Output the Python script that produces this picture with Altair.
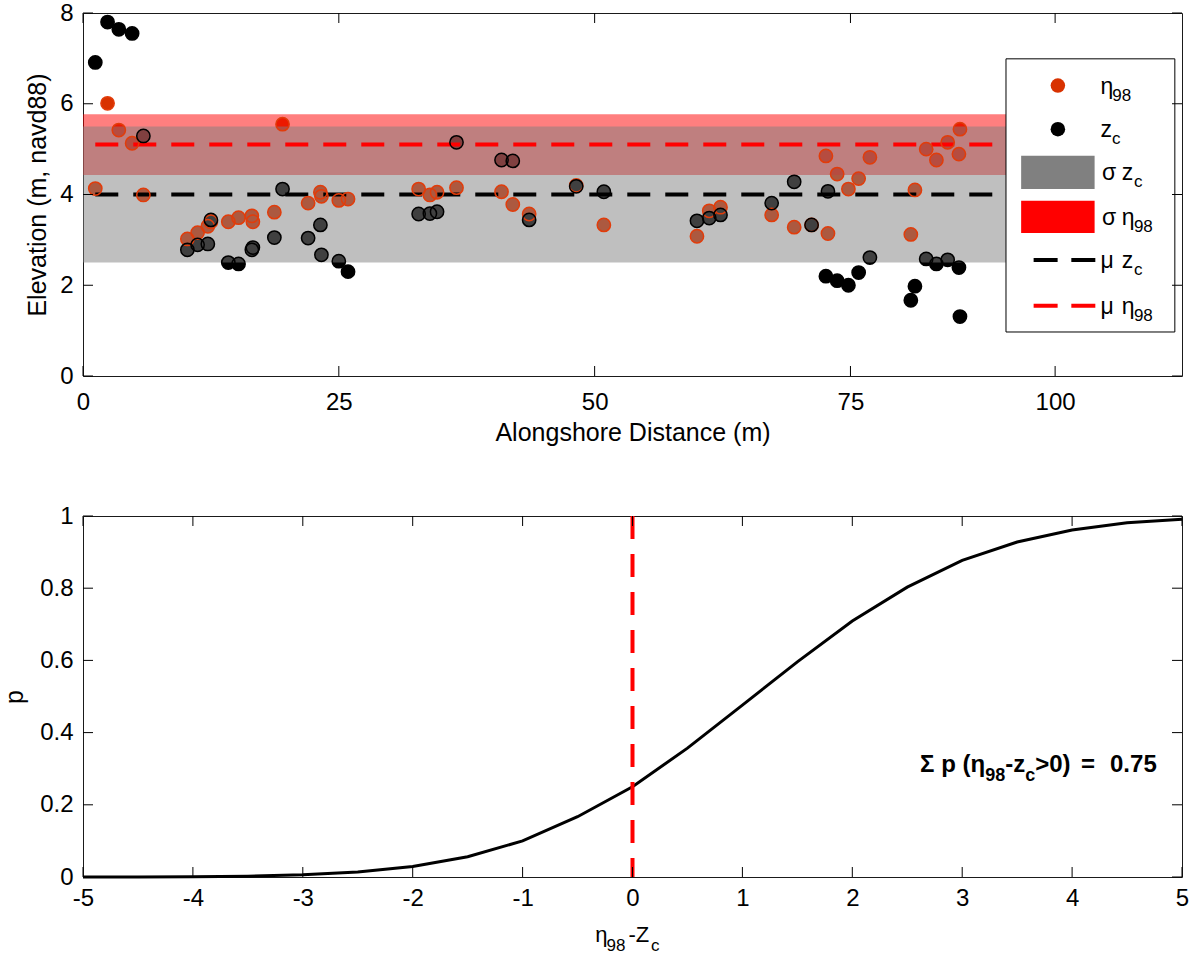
import altair as alt
import pandas as pd

FONT = "Liberation Sans"

# ---------------- top panel data ----------------
dist = [1.2, 2.4, 3.5, 4.8, 5.9, 10.2, 11.2, 12.2, 12.5, 14.2, 15.2, 16.5, 16.6, 18.7, 19.5,
        22.0, 23.2, 23.3, 25.0, 25.9, 32.8, 33.9, 34.6, 36.5, 40.9, 42.0, 43.6, 48.2, 50.9,
        60.0, 61.2, 62.3, 67.3, 69.5, 71.2, 72.6, 72.8, 73.7, 74.8, 75.8, 76.9, 80.9, 81.3,
        82.4, 83.4, 84.5, 85.6, 85.7]
zc = [6.91, 7.80, 7.64, 7.55, 5.29, 2.78, 2.89, 2.91, 3.44, 2.50, 2.47, 2.78, 2.83, 3.05, 4.12,
      3.04, 3.33, 2.67, 2.53, 2.30, 3.57, 3.58, 3.62, 5.15, 4.76, 4.74, 3.44, 4.18, 4.06,
      3.42, 3.48, 3.55, 3.81, 4.28, 3.33, 2.20, 4.07, 2.10, 2.00, 2.28, 2.61, 1.67, 1.98,
      2.58, 2.47, 2.56, 2.39, 1.31]
eta98 = [4.13, 6.01, 5.42, 5.13, 3.99, 3.02, 3.16, 3.30, 3.40, 3.40, 3.49, 3.53, 3.40, 3.61, 5.55,
         3.81, 4.05, 3.96, 3.87, 3.90, 4.12, 3.99, 4.05, 4.15, 4.06, 3.78, 3.57, 4.20, 3.33,
         3.08, 3.64, 3.72, 3.55, 3.28, 3.33, 4.85, 3.14, 4.45, 4.12, 4.35, 4.82, 3.12, 4.10,
         5.00, 4.76, 5.15, 4.89, 5.44]

mu_zc, mu_eta = 4.0, 5.1
band_gray = [2.50, 5.50]   # sigma zc band
band_red = [4.43, 5.77]    # sigma eta98 band
band_x = [0, 105]
line_x = [1.2, 105]

x_tick_pos = [0, 25, 50, 75, 95]
x_tick_lab = ["0", "25", "50", "75", "100"]
y_ticks_top = [0, 2, 4, 6, 8]

# ---------------- bottom panel data ----------------
diff = [-5, -4.5, -4, -3.5, -3, -2.5, -2, -1.5, -1, -0.5, 0, 0.5, 1, 1.5, 2, 2.5, 3, 3.5, 4, 4.5, 5]
prob = [0.000, 0.000, 0.001, 0.002, 0.006, 0.014, 0.029, 0.056, 0.100, 0.167, 0.250, 0.357,
        0.476, 0.596, 0.709, 0.803, 0.877, 0.928, 0.961, 0.981, 0.991]
x_ticks_bot = [-5, -4, -3, -2, -1, 0, 1, 2, 3, 4, 5]
y_ticks_bot = [0, 0.2, 0.4, 0.6, 0.8, 1]

ETA_FILL = "#D83200"
ETA_EDGE = "#E23C0A"

W, H1, H2, TICK = 1099, 363, 361, 10

# ---------------- scales / axes ----------------
xs_top = alt.Scale(domain=[0, 107.4], nice=False, zero=False)
ys_top = alt.Scale(domain=[0, 8], nice=False, zero=False)
label_expr = " : ".join(f"datum.value == {v} ? '{l}'" for v, l in zip(x_tick_pos, x_tick_lab)) + " : ''"
ax_x_top = alt.Axis(values=x_tick_pos, labelExpr=label_expr, title="Alongshore Distance (m)",
                    ticks=False, tickSize=0, domain=False, grid=False, labelPadding=14,
                    titlePadding=6, labelFlush=False, labelOverlap=False)
ax_y_top = alt.Axis(values=y_ticks_top, title="Elevation (m, navd88)", ticks=False, tickSize=0,
                    domain=False, grid=False, labelPadding=10, titlePadding=9, labelFlush=False)


def TX(f):
    return alt.X(f, type="quantitative", scale=xs_top, axis=ax_x_top)


def TY(f):
    return alt.Y(f, type="quantitative", scale=ys_top, axis=ax_y_top)


pts = pd.DataFrame({"dist": dist, "zc": zc, "eta98": eta98})

eta_fill = alt.Chart(pts).mark_circle(size=177, color=ETA_FILL, opacity=1).encode(x=TX("dist"), y=TY("eta98"))
zc_fill = alt.Chart(pts).mark_circle(size=177, color="black", opacity=1).encode(x=TX("dist"), y=TY("zc"))

red_band = alt.Chart(pd.DataFrame({"x0": [band_x[0]], "x1": [band_x[1]], "lo": [band_red[0]], "hi": [band_red[1]]})
                     ).mark_rect(color="#FF0000", opacity=0.5).encode(x=TX("x0"), x2="x1", y=TY("lo"), y2="hi")
gray_band = alt.Chart(pd.DataFrame({"x0": [band_x[0]], "x1": [band_x[1]], "lo": [band_gray[0]], "hi": [band_gray[1]]})
                      ).mark_rect(color="#808080", opacity=0.5).encode(x=TX("x0"), x2="x1", y=TY("lo"), y2="hi")

mean_df = pd.DataFrame({"x0": [line_x[0]] * 2, "x1": [line_x[1]] * 2, "mu": [mu_zc, mu_eta],
                        "col": ["#000000", "#FF0000"]})
mean_lines = alt.Chart(mean_df).mark_rule(strokeWidth=4, strokeDash=[23, 15]).encode(
    x=TX("x0"), x2="x1", y=TY("mu"), color=alt.Color("col:N", scale=None))

eta_ring = alt.Chart(pts).mark_point(shape="circle", filled=False, size=177, strokeWidth=1.5,
                                     color=ETA_EDGE, opacity=1).encode(x=TX("dist"), y=TY("eta98"))
zc_ring = alt.Chart(pts).mark_point(shape="circle", filled=False, size=177, strokeWidth=1.5,
                                    color="black", opacity=1).encode(x=TX("dist"), y=TY("zc"))

# legend (in data units of the top panel)
leg_box = alt.Chart(pd.DataFrame({"x0": [90.2], "x1": [106.7], "y0": [0.97], "y1": [6.99]})).mark_rect(
    fill="white", stroke="black", strokeWidth=1).encode(x=TX("x0"), x2="x1", y=TY("y0"), y2="y1")
leg_dots = alt.Chart(pd.DataFrame({"x": [95.27, 95.27], "y": [6.40, 5.44], "col": [ETA_FILL, "#000000"]})
                     ).mark_circle(size=210, opacity=1).encode(x=TX("x"), y=TY("y"), color=alt.Color("col:N", scale=None))
leg_patch = alt.Chart(pd.DataFrame({"x0": [91.68, 91.68], "x1": [98.86, 98.86], "y0": [4.12, 3.15],
                                    "y1": [4.855, 3.86], "col": ["#808080", "#FF0000"]})
                      ).mark_rect(opacity=1).encode(x=TX("x0"), x2="x1", y=TY("y0"), y2="y1",
                                                    color=alt.Color("col:N", scale=None))
leg_dash = alt.Chart(pd.DataFrame({"x0": [92.9, 92.9], "x1": [98.95, 98.95], "y": [2.556, 1.549],
                                   "col": ["#000000", "#FF0000"]})
                     ).mark_rule(strokeWidth=4, strokeDash=[24, 13.7]).encode(
    x=TX("x0"), x2="x1", y=TY("y"), color=alt.Color("col:N", scale=None))
leg_main = pd.DataFrame({
    "t": ["η", "z", "σ", "z", "σ", "η", "μ", "z", "μ", "η"],
    "x": [99.44, 99.44, 99.57, 101.5, 99.57, 101.5, 99.44, 101.5, 99.44, 101.5],
    "y": [6.222, 5.267, 4.313, 4.313, 3.328, 3.328, 2.387, 2.387, 1.373, 1.373]})
leg_sub = pd.DataFrame({
    "t": ["98", "c", "c", "98", "c", "98"],
    "x": [100.58, 100.55, 102.7, 102.7, 102.7, 102.7],
    "y": [6.067, 5.113, 4.159, 3.174, 2.233, 1.219]})
leg_txt = alt.Chart(leg_main).mark_text(align="left", baseline="alphabetic", fontSize=23, font=FONT,
                                        color="black").encode(x=TX("x"), y=TY("y"), text="t:N")
leg_subt = alt.Chart(leg_sub).mark_text(align="left", baseline="alphabetic", fontSize=17, font=FONT,
                                        color="black").encode(x=TX("x"), y=TY("y"), text="t:N")

# inward ticks (box style) for the top panel
xt_df = pd.DataFrame({"v": x_tick_pos})
yt_df = pd.DataFrame({"v": y_ticks_top})
tick_style = dict(color="black", strokeWidth=1)
tt1 = alt.Chart(xt_df).mark_rule(**tick_style).encode(x=TX("v"), y=alt.value(H1 - TICK), y2=alt.value(H1))
tt2 = alt.Chart(xt_df).mark_rule(**tick_style).encode(x=TX("v"), y=alt.value(0), y2=alt.value(TICK))
tt3 = alt.Chart(yt_df).mark_rule(**tick_style).encode(y=TY("v"), x=alt.value(0), x2=alt.value(TICK))
tt4 = alt.Chart(yt_df).mark_rule(**tick_style).encode(y=TY("v"), x=alt.value(W - TICK), x2=alt.value(W))

top = alt.layer(eta_fill, zc_fill, red_band, gray_band, mean_lines, eta_ring, zc_ring,
                leg_box, leg_dots, leg_patch, leg_dash, leg_txt, leg_subt,
                tt1, tt2, tt3, tt4).properties(width=W, height=H1)

# ---------------- bottom panel ----------------
xs_bot = alt.Scale(domain=[-5, 5], nice=False, zero=False)
ys_bot = alt.Scale(domain=[0, 1], nice=False, zero=False)
ax_x_bot = alt.Axis(values=x_ticks_bot, title=None, ticks=False, tickSize=0, domain=False, grid=False,
                    labelPadding=9, labelFlush=False, labelOverlap=False,
                    labelExpr="replace(datum.label, '\u2212', '-')")
ax_y_bot = alt.Axis(values=y_ticks_bot, title="p", format="~g", ticks=False, tickSize=0, domain=False,
                    grid=False, labelPadding=10, titlePadding=12, labelFlush=False)


def BX(f):
    return alt.X(f, type="quantitative", scale=xs_bot, axis=ax_x_bot)


def BY(f):
    return alt.Y(f, type="quantitative", scale=ys_bot, axis=ax_y_bot)


curve = alt.Chart(pd.DataFrame({"d": diff, "p": prob})).mark_line(color="black", strokeWidth=3).encode(
    x=BX("d"), y=BY("p"))
vline = alt.Chart(pd.DataFrame({"x": [0], "y0": [1], "y1": [0]})).mark_rule(
    color="#FF0000", strokeWidth=4, strokeDash=[23, 15]).encode(x=BX("x"), y=BY("y0"), y2="y1")

ann_main = pd.DataFrame({
    "t": ["Σ", "p (η", "-z", ">0)", "=", "0.75"],
    "x": [2.615, 2.809, 3.391, 3.664, 4.082, 4.345],
    "y": [0.291] * 6})
ann_sub = pd.DataFrame({"t": ["98", "c"], "x": [3.209, 3.573], "y": [0.265, 0.265]})
ann1 = alt.Chart(ann_main).mark_text(align="left", baseline="alphabetic", fontSize=24, fontWeight="bold",
                                     font=FONT, color="black").encode(x=BX("x"), y=BY("y"), text="t:N")
ann2 = alt.Chart(ann_sub).mark_text(align="left", baseline="alphabetic", fontSize=18, fontWeight="bold",
                                    font=FONT, color="black").encode(x=BX("x"), y=BY("y"), text="t:N")

xt_main = pd.DataFrame({"t": ["η", "-Z"], "x": [-0.339, -0.036], "y": [-0.18, -0.18]})
xt_sub = pd.DataFrame({"t": ["98", "c"], "x": [-0.236, 0.168], "y": [-0.205, -0.205]})
xtitle1 = alt.Chart(xt_main).mark_text(align="left", baseline="alphabetic", fontSize=22, font=FONT,
                                       color="black").encode(x=BX("x"), y=BY("y"), text="t:N")
xtitle2 = alt.Chart(xt_sub).mark_text(align="left", baseline="alphabetic", fontSize=17, font=FONT,
                                      color="black").encode(x=BX("x"), y=BY("y"), text="t:N")

bxt = pd.DataFrame({"v": x_ticks_bot})
byt = pd.DataFrame({"v": y_ticks_bot})
bt1 = alt.Chart(bxt).mark_rule(**tick_style).encode(x=BX("v"), y=alt.value(H2 - TICK), y2=alt.value(H2))
bt2 = alt.Chart(bxt).mark_rule(**tick_style).encode(x=BX("v"), y=alt.value(0), y2=alt.value(TICK))
bt3 = alt.Chart(byt).mark_rule(**tick_style).encode(y=BY("v"), x=alt.value(0), x2=alt.value(TICK))
bt4 = alt.Chart(byt).mark_rule(**tick_style).encode(y=BY("v"), x=alt.value(W - TICK), x2=alt.value(W))

bottom = alt.layer(curve, vline, ann1, ann2, xtitle1, xtitle2, bt1, bt2, bt3, bt4).properties(width=W, height=H2)

chart = alt.vconcat(top, bottom, spacing=57).properties(
    padding={"left": 2, "top": 0, "right": 0, "bottom": 0}, background="white"
).configure_view(stroke="#1a1a1a", strokeWidth=1).configure_axis(
    labelFont=FONT, titleFont=FONT, labelFontSize=24, titleFontSize=25, titleFontWeight="normal",
    labelColor="black", titleColor="black"
)

chart.save("out.html", embed_options={"renderer": "svg", "actions": False})
